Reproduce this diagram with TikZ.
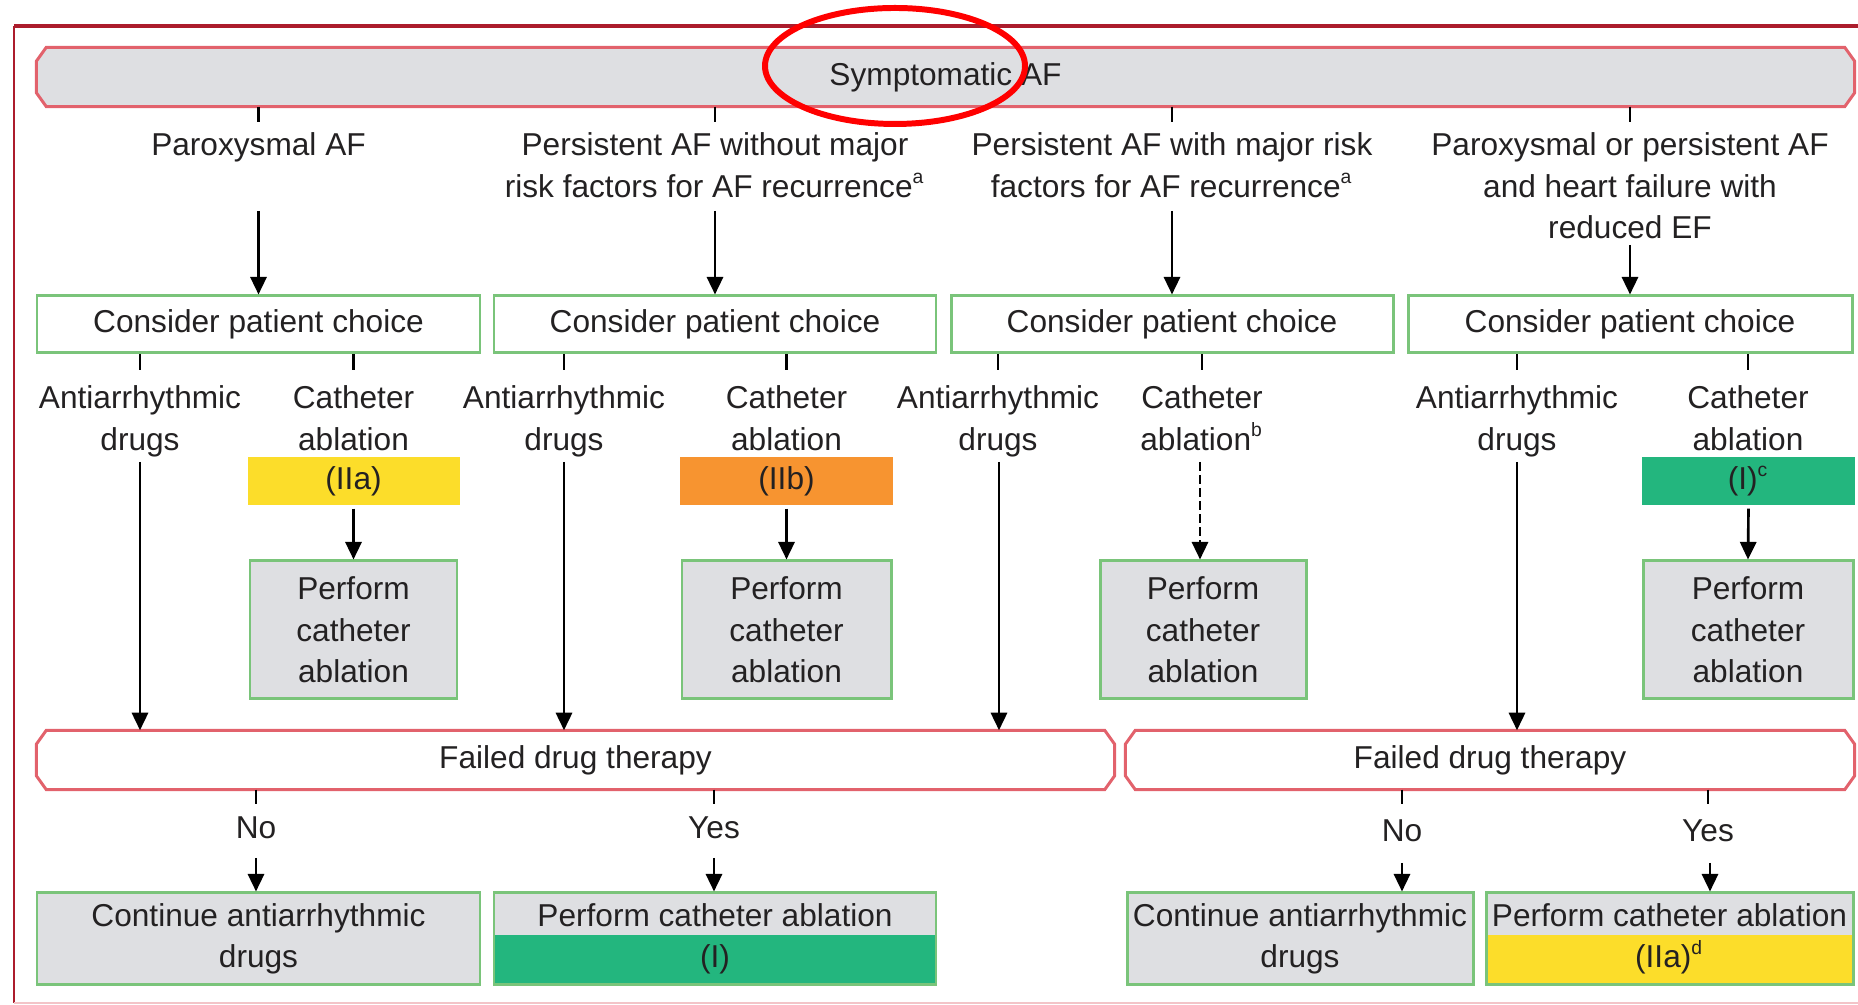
\documentclass[tikz,border=0pt]{standalone}
\usepackage{fontspec}
\setmainfont{Liberation Sans}
\usetikzlibrary{positioning}
\usetikzlibrary{backgrounds}
\usetikzlibrary{arrows.meta}
\usepackage{xcolor}

\definecolor{framered}{RGB}{172,28,44}
\definecolor{edgered}{RGB}{226,98,108}
\definecolor{edgegreen}{RGB}{122,196,122}
\definecolor{boxgray}{RGB}{222,223,226}
\definecolor{rateyellow}{RGB}{252,221,42}
\definecolor{rateorange}{RGB}{247,148,48}
\definecolor{rategreen}{RGB}{35,182,126}
\definecolor{inkgray}{RGB}{35,33,34}
\definecolor{palepink}{RGB}{243,196,200}

\newcommand{\supmark}[1]{\textsuperscript{\fontsize{5.5}{5.5}\selectfont #1}}
% cut-corner outline round a node
\newcommand{\chamfpath}[2]{%
  \draw[edgered, line width=0.85pt, fill=#2]
    ([xshift=1mm]#1.north west) -- ([xshift=-1mm]#1.north east)
    -- ([yshift=-1.4mm]#1.north east) -- ([yshift=1.4mm]#1.south east)
    -- ([xshift=-1mm]#1.south east) -- ([xshift=1mm]#1.south west)
    -- ([yshift=1.4mm]#1.south west) -- ([yshift=-1.4mm]#1.north west) -- cycle;}

\begin{document}
\begin{tikzpicture}[
  every node/.style={font=\fontsize{9}{11.8}\selectfont, text=inkgray},
  txt/.style={inner sep=0pt, align=center, anchor=north},
  chamf/.style={inner sep=0pt, minimum height=0.58cm},
  choicebox/.style={draw=edgegreen, line width=0.85pt, fill=white, minimum height=0.57cm, inner sep=0pt},
  actbox/.style={draw=edgegreen, line width=0.85pt, fill=boxgray, inner sep=0pt, align=center},
  ratebox/.style={fill=#1, minimum width=2.13cm, minimum height=0.48cm, inner sep=0pt},
  lowfill/.style={path picture={\fill[#1] (path picture bounding box.south west) rectangle ([yshift=0.5cm]path picture bounding box.south east);}},
  tick/.style={line width=0.75pt, black},
  arr/.style={line width=0.75pt, black, -{Triangle[length=5pt,width=4.6pt]}}
]

\useasboundingbox (0,0) rectangle (18.58,10.05);

% frame
\draw[framered, line width=0.55pt] (0.14,0.02) -- (0.14,9.79);
\draw[framered, line width=0.9pt] (0.14,9.79) -- (18.7,9.79);
\draw[palepink, line width=0.6pt] (0.14,0.02) -- (18.7,0.02);

% top banner and the four groups
\node[chamf, minimum width=18.17cm] (banner) at (9.455,9.28) {Symptomatic AF};

\node[txt] (cat1) at (2.585,8.73) {Paroxysmal AF};
\node[txt] (cat2) at (7.15,8.73) {Persistent AF without major\\risk factors for AF recurrence\supmark{a}};
\node[txt] (cat3) at (11.72,8.73) {Persistent AF with major risk\\factors for AF recurrence\supmark{a}};
\node[txt] (cat4) at (16.30,8.73) {Paroxysmal or persistent AF\\and heart failure with\\reduced EF};

\foreach \c in {1,...,4}
  \draw[tick] (cat\c.north |- banner.south) -- ([yshift=0.1cm]cat\c.north);

\node[choicebox, minimum width=4.43cm] (cons1) at (2.585,6.805) {Consider patient choice};
\node[choicebox, minimum width=4.42cm] (cons2) at (7.15,6.805) {Consider patient choice};
\node[choicebox, minimum width=4.42cm] (cons3) at (11.72,6.805) {Consider patient choice};
\node[choicebox, minimum width=4.44cm] (cons4) at (16.30,6.805) {Consider patient choice};

\coordinate (from1) at (2.585,7.94);
\coordinate (from2) at (7.15,7.94);
\coordinate (from3) at (11.72,7.94);
\coordinate (from4) at (16.30,7.60);
\foreach \c in {1,...,4}
  \draw[arr] (from\c) -- (cons\c);

% drugs or ablation
\node[txt] (drug1) at (1.40,6.20) {Antiarrhythmic\\drugs};
\node[txt] (abl1) at (3.535,6.20) {Catheter\\ablation};
\node[txt] (drug2) at (5.64,6.20) {Antiarrhythmic\\drugs};
\node[txt] (abl2) at (7.865,6.20) {Catheter\\ablation};
\node[txt] (drug3) at (9.98,6.20) {Antiarrhythmic\\drugs};
\node[txt] (abl3) at (12.02,6.20) {Catheter\\ablation\supmark{b}};
\node[txt] (drug4) at (15.17,6.20) {Antiarrhythmic\\drugs};
\node[txt] (abl4) at (17.48,6.20) {Catheter\\ablation};

\foreach \c in {1,...,4}{
  \draw[tick] (drug\c.north |- cons\c.south) -- ([yshift=0.15cm]drug\c.north);
  \draw[tick] (abl\c.north |- cons\c.south) -- ([yshift=0.15cm]abl\c.north);
}

\node[ratebox=rateyellow, minimum width=2.12cm] (rate1) at (3.535,5.24) {(IIa)};
\node[ratebox=rateorange] (rate2) at (7.865,5.24) {(IIb)};
\node[ratebox=rategreen] (rate4) at (17.485,5.24) {(I)\supmark{c}};

\node[actbox, minimum width=2.07cm, minimum height=1.38cm] (perf1) at (3.535,3.75) {Perform\\catheter\\ablation};
\node[actbox, minimum width=2.09cm, minimum height=1.38cm] (perf2) at (7.865,3.75) {Perform\\catheter\\ablation};
\node[actbox, minimum width=2.06cm, minimum height=1.38cm] (perf3) at (12.03,3.75) {Perform\\catheter\\ablation};
\node[actbox, minimum width=2.10cm, minimum height=1.38cm] (perf4) at (17.48,3.75) {Perform\\catheter\\ablation};

\draw[arr] ([yshift=-0.03cm]rate1.south) -- (perf1);
\draw[arr] ([yshift=-0.03cm]rate2.south) -- (perf2);
\draw[arr] ([yshift=-0.03cm]rate4.south) -- (perf4 |- perf4.north);
\coordinate (dash3) at (12.00,5.43);
\draw[arr, dash pattern=on 2.5pt off 1.2pt] (dash3) -- (dash3 |- perf3.north);

% failed drug therapy
\node[chamf, minimum width=10.77cm] (failL) at (5.755,2.45) {Failed drug therapy};
\node[chamf, minimum width=7.28cm] (failR) at (14.90,2.45) {Failed drug therapy};

\begin{scope}[on background layer]
  \chamfpath{banner}{boxgray}
  \chamfpath{failL}{white}
  \chamfpath{failR}{white}
\end{scope}

\coordinate (long1) at (1.40,5.43);
\coordinate (long2) at (5.64,5.43);
\coordinate (long3) at (9.99,5.43);
\coordinate (long4) at (15.17,5.43);
\draw[arr] (long1) -- (long1 |- failL.north);
\draw[arr] (long2) -- (long2 |- failL.north);
\draw[arr] (long3) -- (long3 |- failL.north);
\draw[arr] (long4) -- (long4 |- failR.north);

\node[txt] (noL) at (2.56,1.89) {No};
\node[txt] (yesL) at (7.14,1.89) {Yes};
\node[txt] (noR) at (14.02,1.86) {No};
\node[txt] (yesR) at (17.08,1.86) {Yes};

\draw[tick] (noL.north |- failL.south) -- ([yshift=0.12cm]noL.north);
\draw[tick] (yesL.north |- failL.south) -- ([yshift=0.12cm]yesL.north);
\draw[tick] (noR.north |- failR.south) -- ([yshift=0.15cm]noR.north);
\draw[tick] (yesR.north |- failR.south) -- ([yshift=0.15cm]yesR.north);

\node[actbox, minimum width=4.43cm, minimum height=0.92cm] (contL) at (2.585,0.66) {Continue antiarrhythmic\\drugs};
\node[actbox, lowfill=rategreen, minimum width=4.42cm, minimum height=0.92cm] (perfL) at (7.15,0.66) {Perform catheter ablation\\(I)};
\node[actbox, minimum width=3.46cm, minimum height=0.92cm] (contR) at (13.00,0.66) {Continue antiarrhythmic\\drugs};
\node[actbox, lowfill=rateyellow, minimum width=3.67cm, minimum height=0.92cm] (perfR) at (16.695,0.66) {Perform catheter ablation\\(IIa)\supmark{d}};

\coordinate (goL1) at (2.56,1.47);
\coordinate (goL2) at (7.14,1.47);
\coordinate (goR1) at (14.02,1.42);
\coordinate (goR2) at (17.10,1.42);
\draw[arr] (goL1) -- (goL1 |- contL.north);
\draw[arr] (goL2) -- (goL2 |- perfL.north);
\draw[arr] (goR1) -- (goR1 |- contR.north);
\draw[arr] (goR2) -- (goR2 |- perfR.north);

% red mark round the title
\draw[red, line width=1.7pt] (8.95,9.39) ellipse [x radius=1.30, y radius=0.58];

\end{tikzpicture}
\end{document}
